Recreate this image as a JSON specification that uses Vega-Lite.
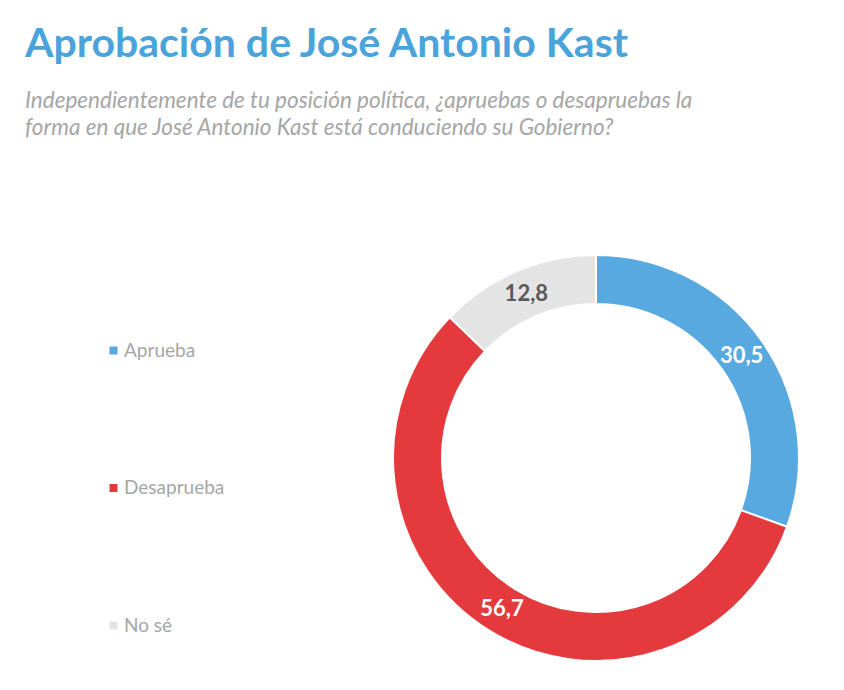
{
  "$schema": "https://vega.github.io/schema/vega-lite/v6.json",
  "autosize": "none",
  "width": 406,
  "height": 406,
  "padding": {"left": 393, "right": 45, "top": 255, "bottom": 29},
  "background": "white",
  "title": {
    "text": "Aprobación de José Antonio Kast",
    "subtitle": [
      "Independientemente de tu posición política, ¿apruebas o desapruebas la",
      "forma en que José Antonio Kast está conduciendo su Gobierno?"
    ],
    "anchor": "start",
    "frame": "group",
    "dx": -368,
    "offset": 111,
    "font": "Lato",
    "fontSize": 41,
    "fontWeight": "bold",
    "color": "#4BA3DB",
    "subtitleFont": "Lato",
    "subtitleFontSize": 22.5,
    "subtitleFontStyle": "italic",
    "subtitleColor": "#A6A6A6",
    "subtitleLineHeight": 27,
    "subtitlePadding": 24
  },
  "data": {
    "values": [
      {"respuesta": "Aprueba", "pct": 30.5},
      {"respuesta": "Desaprueba", "pct": 56.7},
      {"respuesta": "No sé", "pct": 12.8}
    ]
  },
  "encoding": {
    "theta": {"field": "pct", "type": "quantitative", "stack": true},
    "order": {"field": "respuesta", "sort": "ascending"}
  },
  "layer": [
    {
      "mark": {"type": "arc", "innerRadius": 154, "outerRadius": 203, "stroke": "white", "strokeWidth": 2},
      "encoding": {
        "color": {
          "field": "respuesta",
          "type": "nominal",
          "scale": {
            "domain": ["Aprueba", "Desaprueba", "No sé"],
            "range": ["#57A9DF", "#E53A3D", "#E4E4E4"]
          },
          "legend": {
            "title": null,
            "orient": "none",
            "legendX": -289,
            "legendY": 86,
            "padding": 0,
            "symbolType": "square",
            "symbolSize": 64,
            "symbolStrokeWidth": 0,
            "labelFont": "Lato",
            "labelFontSize": 19,
            "labelColor": "#A6A6A6",
            "labelOffset": 1,
            "rowPadding": 117.5
          }
        }
      }
    },
    {
      "mark": {"type": "text", "radius": 178, "font": "Lato", "fontSize": 22, "fontWeight": "bold"},
      "encoding": {
        "text": {"field": "pct", "type": "quantitative", "format": ".1f"},
        "color": {
          "condition": {"test": "datum.respuesta == 'No sé'", "value": "#595959"},
          "value": "white"
        }
      }
    }
  ],
  "config": {
    "view": {"stroke": null},
    "locale": {
      "number": {"decimal": ",", "thousands": ".", "grouping": [3], "currency": ["$", ""]}
    }
  }
}
